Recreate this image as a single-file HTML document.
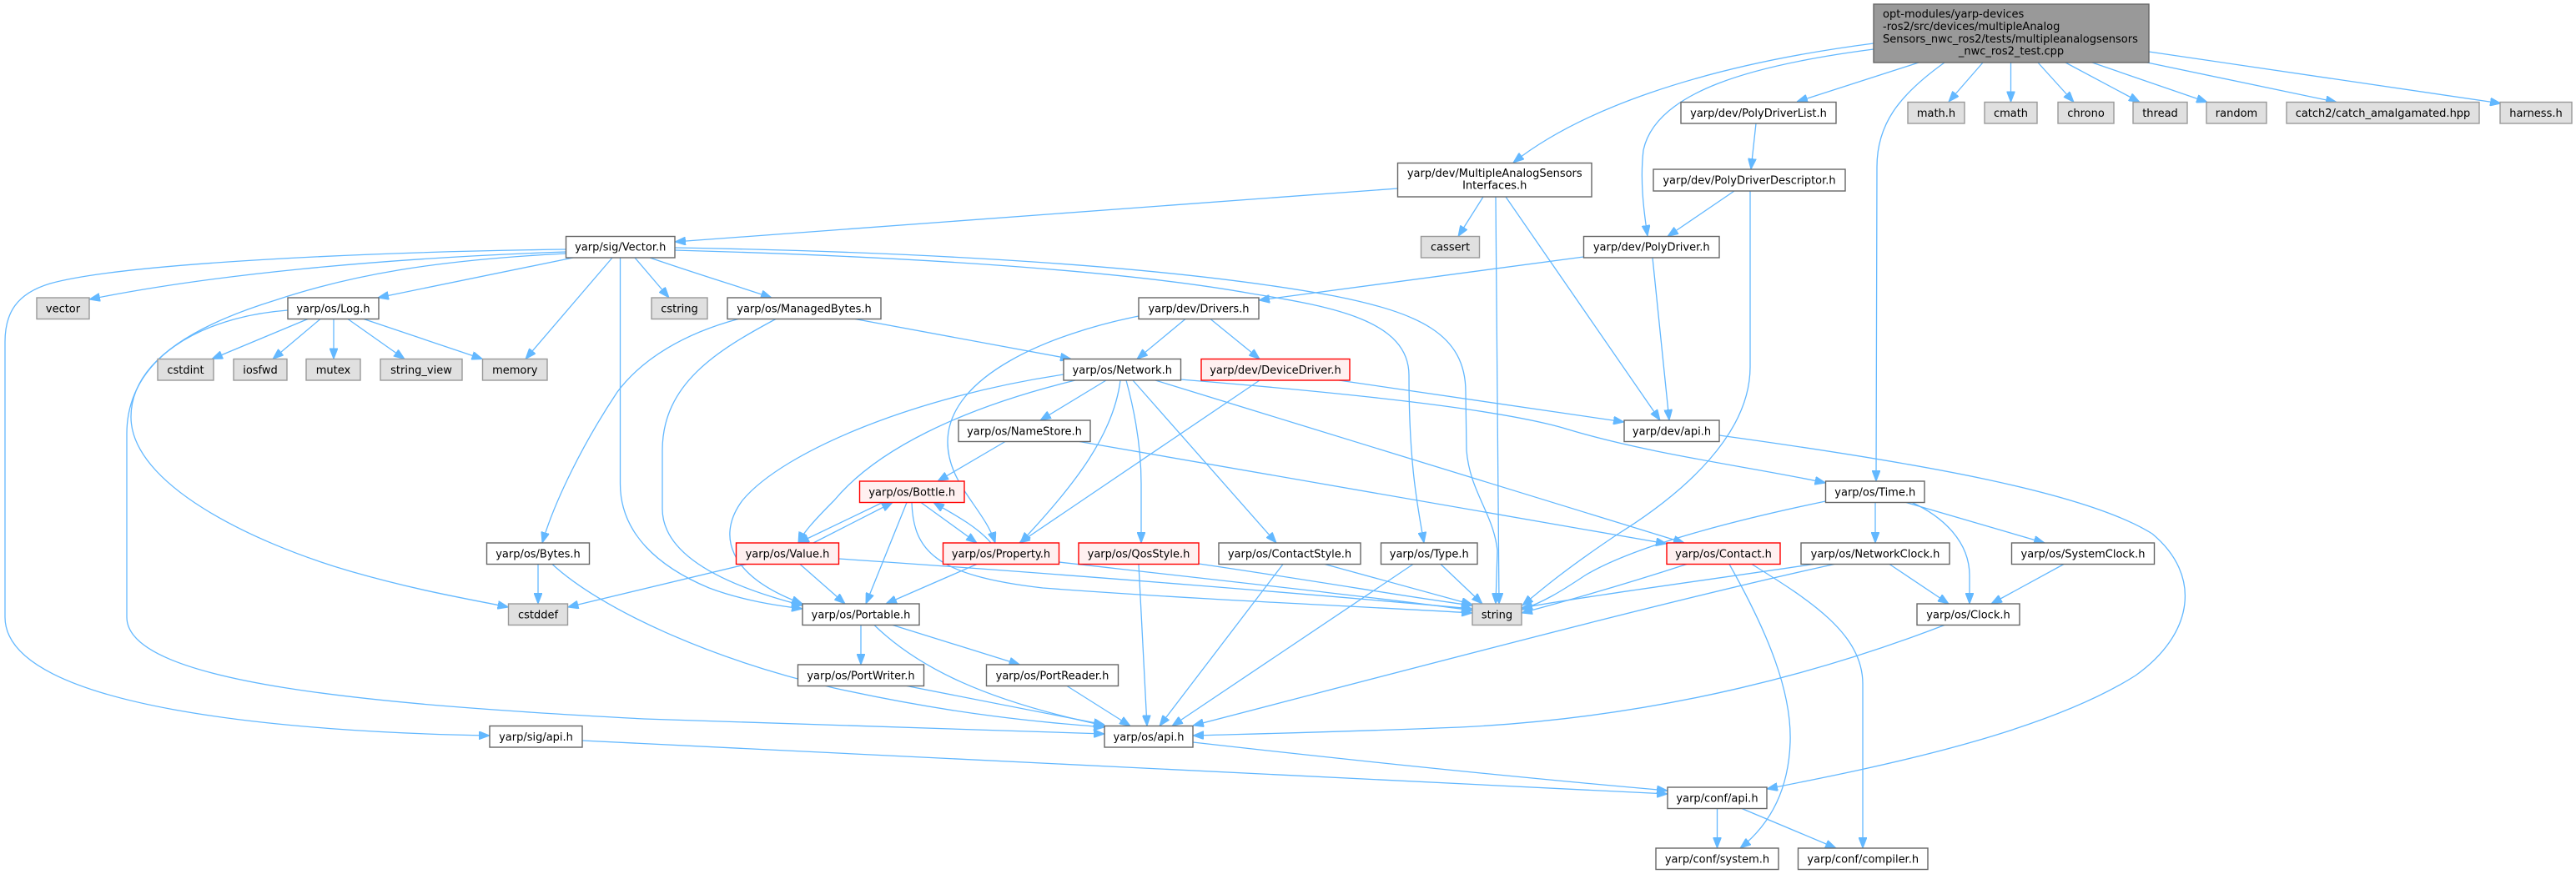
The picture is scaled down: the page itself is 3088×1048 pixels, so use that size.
<!DOCTYPE html>
<html>
<head>
<meta charset="utf-8">
<style>
html,body{margin:0;padding:0;background:#fff;}
svg{display:block;}
text{font-family:"DejaVu Sans","Liberation Sans",sans-serif;font-size:13px;fill:#000;}
.e{fill:none;stroke:#63b8ff;stroke-width:1.3;marker-end:url(#ah);}
.n{fill:#fff;stroke:#666;stroke-width:1.4;}
.g{fill:#e0e0e0;stroke:#999;stroke-width:1.4;}
.r{fill:#fff0f0;stroke:#ff0000;stroke-width:1.4;}
.m{fill:#999;stroke:#666;stroke-width:1.4;}
</style>
</head>
<body>
<svg width="3088" height="1048" viewBox="0 0 3088 1048" xmlns="http://www.w3.org/2000/svg">
<defs>
<marker id="ah" viewBox="0 0 13 10" refX="13" refY="5" markerWidth="13" markerHeight="10" markerUnits="userSpaceOnUse" orient="auto">
<path d="M0,0 L13,5 L0,10 z" fill="#63b8ff" stroke="#63b8ff" stroke-width="1"/>
</marker>
</defs>
<rect width="3088" height="1048" fill="#fff"/>

<!-- edges -->
<g>
<path class="e" d="M2246,52 C2030,80 1890,135 1814,195"/>
<path class="e" d="M2246,59 C2100,78 1985,110 1970,180 C1966,215 1970,250 1975,283"/>
<path class="e" d="M2300,75 L2154,122"/>
<path class="e" d="M2331,75 C2275,115 2250,150 2250,200 L2249,577"/>
<path class="e" d="M2377,75 L2336,122"/>
<path class="e" d="M2410.5,75 L2410.5,122.5"/>
<path class="e" d="M2443,75 L2486,122.5"/>
<path class="e" d="M2476,75 L2565,122.5"/>
<path class="e" d="M2508,75 L2646,122.5"/>
<path class="e" d="M2574,75 L2801,122.5"/>
<path class="e" d="M2576,62 L2998,124"/>

<path class="e" d="M1675.5,226 L809,290"/>
<path class="e" d="M1778,236 L1748,283.5"/>
<path class="e" d="M1793,236 L1797,724"/>
<path class="e" d="M1805,236 L1990,504"/>

<path class="e" d="M2105,148 L2099,203"/>
<path class="e" d="M2079,229 L1999,283.5"/>
<path class="e" d="M2098,229 L2098,440 C2098,520 2020,590 1940,640 C1880,680 1850,705 1825,726"/>

<path class="e" d="M1898.5,308 L1509,360"/>
<path class="e" d="M1981,309 L2001,504"/>

<path class="e" d="M678.5,299 C450,302 150,315 60,340 C20,352 6,375 6,410 L6,740 C6,850 350,878 587,882"/>
<path class="e" d="M678.5,302 C450,310 250,330 107,359"/>
<path class="e" d="M678.5,304 C520,312 420,330 330,360 C200,400 157,450 157,500 C157,580 300,650 420,685 C500,708 560,718 609.5,728"/>
<path class="e" d="M687,309 L453,357"/>
<path class="e" d="M761,309 L802,357"/>
<path class="e" d="M779,309 C840,330 890,345 925,357"/>
<path class="e" d="M734,309 L630,430.5"/>
<path class="e" d="M743.5,309 L743.5,580 C743.5,640 790,680 850,705 C890,720 930,726 962,730"/>
<path class="e" d="M809,297 C1100,302 1400,318 1600,355 C1700,375 1757,400 1757,470 L1758,540 C1762,590 1790,615 1795,660 L1793,724"/>
<path class="e" d="M809,300 C1100,308 1350,325 1500,352 C1600,368 1689,385 1689,450 C1689,560 1700,610 1707,651"/>

<path class="e" d="M369,382.5 L254,430.5"/>
<path class="e" d="M384,382.5 L327,430.5"/>
<path class="e" d="M400,382.5 L400,430.5"/>
<path class="e" d="M417,382.5 L485,430.5"/>
<path class="e" d="M436,382.5 L578.5,430.5"/>
<path class="e" d="M345,372 C240,380 152,430 152,520 L152,740 C152,820 450,845 772,862 C1000,870 1200,876 1324,880"/>

<path class="e" d="M885,382.5 C820,400 770,430 740,470 C700,530 665,600 650,651"/>
<path class="e" d="M930,382.5 C860,420 794,460 794,540 L794,610 C794,670 880,705 962,726"/>
<path class="e" d="M1025,382.5 L1284,430.5"/>

<path class="e" d="M1421,382.5 L1363,430.5"/>
<path class="e" d="M1451,382.5 L1510,430.5"/>
<path class="e" d="M1365,379 C1260,400 1136,450 1136,530 C1136,580 1180,610 1193,651"/>

<path class="e" d="M1510,456 L1222,651"/>
<path class="e" d="M1605,456 L1947,506"/>

<path class="e" d="M1326,456 L1247,504"/>
<path class="e" d="M1343,456 C1335,520 1290,580 1223,651"/>
<path class="e" d="M1350,456 C1362,500 1368,540 1368,580 L1368,651"/>
<path class="e" d="M1358,456 L1530,651"/>
<path class="e" d="M1385,456 L2019,651"/>
<path class="e" d="M1415,455 C1600,470 1800,490 1880,515 C1980,545 2100,560 2188.5,579"/>
<path class="e" d="M1289,456 C1150,490 1050,540 1000,600 C975,625 962,640 957,651"/>
<path class="e" d="M1275,449 C1100,475 940,540 890,600 C860,640 870,690 962,724"/>

<path class="e" d="M1205,529.5 L1124,577"/>
<path class="e" d="M1294,529.5 L1998,652"/>

<path class="e" d="M1058,602.5 L957,651"/>
<path class="e" d="M975,651 L1070,602.5"/>
<path class="e" d="M1104,602.5 L1171,651"/>
<path class="e" d="M1188,651 C1170,630 1140,615 1119,602.5"/>
<path class="e" d="M1087,602.5 L1038,724"/>
<path class="e" d="M1093,602.5 C1095,660 1120,690 1250,705 C1450,720 1650,728 1765,735"/>

<path class="e" d="M959,676.5 L1013,724"/>
<path class="e" d="M1005.5,670 C1300,690 1600,715 1765,730"/>
<path class="e" d="M895,676.5 L680.5,728"/>

<path class="e" d="M1171,676.5 L1062,724"/>
<path class="e" d="M1269.5,674 C1500,700 1680,720 1765,732"/>

<path class="e" d="M1437,676 C1600,700 1700,718 1765,726"/>
<path class="e" d="M1365,676.5 L1375,870.5"/>

<path class="e" d="M1538,676.5 L1390,870.5"/>
<path class="e" d="M1588,676.5 L1765,725"/>

<path class="e" d="M1694,676.5 L1405,870.5"/>
<path class="e" d="M1727,676.5 L1777,724"/>

<path class="e" d="M2022,676.5 C1950,700 1880,720 1824,735"/>
<path class="e" d="M2073,676.5 C2120,760 2148,830 2146,890 C2144,950 2120,990 2086,1017"/>
<path class="e" d="M2100,676.5 C2170,720 2233,760 2233,820 L2233,1017"/>

<path class="e" d="M2174,676.5 C2050,695 1900,715 1824,729"/>
<path class="e" d="M2199,676.5 C2000,720 1700,800 1430,870"/>
<path class="e" d="M2265,676.5 L2336,724"/>

<path class="e" d="M2248,602.5 L2248,651"/>
<path class="e" d="M2285,602.5 L2451,651"/>
<path class="e" d="M2292,602.5 C2330,620 2361,650 2361,690 L2361,724"/>
<path class="e" d="M2188.5,601 C2050,630 1950,660 1900,690 C1870,710 1850,722 1824,731"/>

<path class="e" d="M2474,676.5 L2387,724"/>

<path class="e" d="M2331,749.5 C2200,800 2000,860 1750,872 C1600,878 1500,880 1430,882"/>

<path class="e" d="M1430,890 C1650,915 1850,935 1999,948"/>
<path class="e" d="M698,888 C1100,905 1600,935 1999,952"/>
<path class="e" d="M2061,522 C2300,555 2500,590 2580,640 C2640,690 2630,760 2560,810 C2450,880 2250,920 2118,946"/>

<path class="e" d="M2058.5,969.5 L2058.5,1017"/>
<path class="e" d="M2088,969.5 L2201,1017"/>

<path class="e" d="M1032,749.5 L1032,797"/>
<path class="e" d="M1070,749.5 L1222.5,797"/>
<path class="e" d="M1048,749.5 C1100,800 1180,840 1324,870"/>
<path class="e" d="M1087,822.5 L1324,869"/>
<path class="e" d="M1279,822.5 L1355,870.5"/>

<path class="e" d="M645,676.5 L645,724"/>
<path class="e" d="M662,676.5 C720,730 850,790 1000,825 C1150,858 1250,866 1324,872"/>
</g>

<!-- nodes -->
<g text-anchor="middle">
<rect class="m" x="2246" y="5" width="330" height="70"/>
<text x="2257" y="21.2" text-anchor="start">opt-modules/yarp-devices</text>
<text x="2257" y="36.2" text-anchor="start">-ros2/src/devices/multipleAnalog</text>
<text x="2257" y="51.2" text-anchor="start">Sensors_nwc_ros2/tests/multipleanalogsensors</text>
<text x="2411" y="65.5">_nwc_ros2_test.cpp</text>

<rect class="n" x="2015" y="122.5" width="186" height="25.5"/><text x="2108" y="140">yarp/dev/PolyDriverList.h</text>
<rect class="g" x="2287" y="122.5" width="68" height="25.5"/><text x="2321" y="140">math.h</text>
<rect class="g" x="2379" y="122.5" width="63" height="25.5"/><text x="2410.5" y="140">cmath</text>
<rect class="g" x="2467" y="122.5" width="67" height="25.5"/><text x="2500.5" y="140">chrono</text>
<rect class="g" x="2557" y="122.5" width="65" height="25.5"/><text x="2589.5" y="140">thread</text>
<rect class="g" x="2645" y="122.5" width="72" height="25.5"/><text x="2681" y="140">random</text>
<rect class="g" x="2741" y="122.5" width="231" height="25.5"/><text x="2856.5" y="140">catch2/catch_amalgamated.hpp</text>
<rect class="g" x="2997" y="122.5" width="86" height="25.5"/><text x="3040" y="140">harness.h</text>

<rect class="n" x="1675.5" y="195.5" width="232.5" height="40.5"/>
<text x="1791.75" y="212">yarp/dev/MultipleAnalogSensors</text>
<text x="1791.75" y="226.5">Interfaces.h</text>
<rect class="n" x="1982" y="203" width="230" height="26"/><text x="2097" y="220.5">yarp/dev/PolyDriverDescriptor.h</text>

<rect class="n" x="678.5" y="283.5" width="130.5" height="25.5"/><text x="743.75" y="300.5">yarp/sig/Vector.h</text>
<rect class="g" x="1703.5" y="283.5" width="70" height="25.5"/><text x="1738.5" y="300.5">cassert</text>
<rect class="n" x="1898.5" y="283.5" width="162.5" height="25.5"/><text x="1979.75" y="300.5">yarp/dev/PolyDriver.h</text>

<rect class="g" x="44" y="357" width="63" height="25.5"/><text x="75.5" y="374.5">vector</text>
<rect class="n" x="345" y="357" width="109" height="25.5"/><text x="399.5" y="374.5">yarp/os/Log.h</text>
<rect class="g" x="781" y="357" width="67" height="25.5"/><text x="814.5" y="374.5">cstring</text>
<rect class="n" x="872" y="357" width="184" height="25.5"/><text x="964" y="374.5">yarp/os/ManagedBytes.h</text>
<rect class="n" x="1365" y="357" width="144" height="25.5"/><text x="1437" y="374.5">yarp/dev/Drivers.h</text>

<rect class="g" x="189" y="430.5" width="67" height="25.5"/><text x="222.5" y="448">cstdint</text>
<rect class="g" x="280" y="430.5" width="64" height="25.5"/><text x="312" y="448">iosfwd</text>
<rect class="g" x="367" y="430.5" width="65" height="25.5"/><text x="399.5" y="448">mutex</text>
<rect class="g" x="456" y="430.5" width="98" height="25.5"/><text x="505" y="448">string_view</text>
<rect class="g" x="578.5" y="430.5" width="77.5" height="25.5"/><text x="617.25" y="448">memory</text>
<rect class="n" x="1275" y="430.5" width="140.5" height="25.5"/><text x="1345.25" y="448">yarp/os/Network.h</text>
<rect class="r" x="1440" y="430.5" width="178" height="25.5"/><text x="1529" y="448">yarp/dev/DeviceDriver.h</text>

<rect class="n" x="1149" y="504" width="158" height="25.5"/><text x="1228" y="521.5">yarp/os/NameStore.h</text>
<rect class="n" x="1947" y="504" width="114" height="25.5"/><text x="2004" y="521.5">yarp/dev/api.h</text>

<rect class="r" x="1030.5" y="577" width="125.5" height="25.5"/><text x="1093.25" y="594.5">yarp/os/Bottle.h</text>
<rect class="n" x="2188.5" y="577" width="118.5" height="25.5"/><text x="2247.75" y="594.5">yarp/os/Time.h</text>

<rect class="n" x="583.5" y="651" width="123" height="25.5"/><text x="645" y="668.5">yarp/os/Bytes.h</text>
<rect class="r" x="882.5" y="651" width="123" height="25.5"/><text x="944" y="668.5">yarp/os/Value.h</text>
<rect class="r" x="1130.5" y="651" width="139" height="25.5"/><text x="1200" y="668.5">yarp/os/Property.h</text>
<rect class="r" x="1293" y="651" width="144" height="25.5"/><text x="1365" y="668.5">yarp/os/QosStyle.h</text>
<rect class="n" x="1461" y="651" width="170" height="25.5"/><text x="1546" y="668.5">yarp/os/ContactStyle.h</text>
<rect class="n" x="1655.5" y="651" width="115.5" height="25.5"/><text x="1713.25" y="668.5">yarp/os/Type.h</text>
<rect class="r" x="1998" y="651" width="136" height="25.5"/><text x="2066" y="668.5">yarp/os/Contact.h</text>
<rect class="n" x="2159" y="651" width="178" height="25.5"/><text x="2248" y="668.5">yarp/os/NetworkClock.h</text>
<rect class="n" x="2411.5" y="651" width="171" height="25.5"/><text x="2497" y="668.5">yarp/os/SystemClock.h</text>

<rect class="g" x="609.5" y="724" width="71" height="25.5"/><text x="645" y="741.5">cstddef</text>
<rect class="n" x="962" y="724" width="140" height="25.5"/><text x="1032" y="741.5">yarp/os/Portable.h</text>
<rect class="g" x="1765" y="724" width="59" height="25.5"/><text x="1794.5" y="741.5">string</text>
<rect class="n" x="2298" y="724" width="123" height="25.5"/><text x="2359.5" y="741.5">yarp/os/Clock.h</text>

<rect class="n" x="956.5" y="797" width="151" height="25.5"/><text x="1032" y="814.5">yarp/os/PortWriter.h</text>
<rect class="n" x="1182.5" y="797" width="158" height="25.5"/><text x="1261.5" y="814.5">yarp/os/PortReader.h</text>

<rect class="n" x="587" y="870.5" width="111" height="25.5"/><text x="642.5" y="888">yarp/sig/api.h</text>
<rect class="n" x="1324" y="870.5" width="106" height="25.5"/><text x="1377" y="888">yarp/os/api.h</text>

<rect class="n" x="1999" y="944" width="119" height="25.5"/><text x="2058.5" y="961.5">yarp/conf/api.h</text>

<rect class="n" x="1985" y="1017" width="147" height="25.5"/><text x="2058.5" y="1034.5">yarp/conf/system.h</text>
<rect class="n" x="2155.5" y="1017" width="155.5" height="25.5"/><text x="2233.25" y="1034.5">yarp/conf/compiler.h</text>
</g>
</svg>
</body>
</html>
